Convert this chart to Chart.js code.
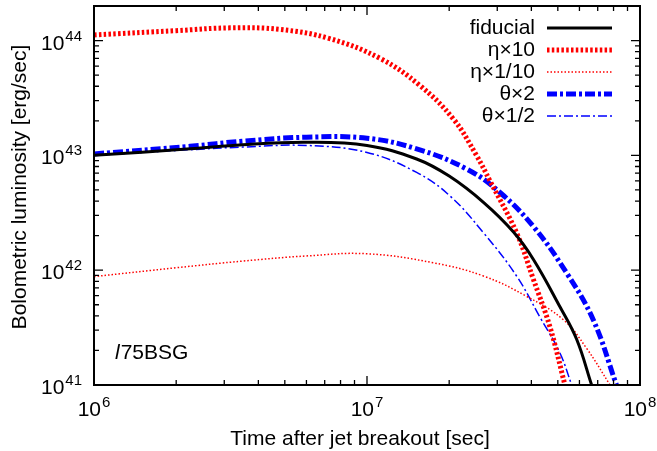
<!DOCTYPE html>
<html>
<head>
<meta charset="utf-8">
<script src="https://cdn.jsdelivr.net/npm/chart.js@4"></script>
<style>
  html, body { margin: 0; padding: 0; background: #fff; }
  #wrap { width: 657px; height: 451px; }
</style>
</head>
<body>
<div id="wrap"><canvas id="chart"></canvas></div>
<script>
  // axis ranges and labelled decades
  const xRange = [1e6, 1e8];
  const yRange = [1e41, 2e44];
  const xMajor = [6, 7, 8];
  const yMajor = [41, 42, 43, 44];

  // fiducial
  const fidT = [1e6, 2.25e6, 3.5e6, 6e6, 1e7, 1.52e7, 2.0e7, 2.67e7, 3.44e7, 4.07e7, 5.09e7, 5.86e7, 6.65e7];
  const fidL = [1.0e43, 1.14e43, 1.24e43, 1.30e43, 1.22e43, 9.3e42, 6.6e42, 3.9e42, 2.15e42, 1.24e42, 4.8e41, 2.5e41, 1.0e41];

  // eta x 10
  const etaHiT = [1e6, 2e6, 3.15e6, 4.8e6, 7.3e6, 1.12e7, 1.56e7, 2.07e7, 2.52e7, 2.82e7, 3.53e7, 4.07e7, 4.68e7, 5.31e7];
  const etaHiL = [1.12e44, 1.22e44, 1.29e44, 1.25e44, 1.04e44, 6.97e43, 4.07e43, 2.08e43, 9.96e42, 6.0e42, 2.12e42, 8.3e41, 3.2e41, 1.0e41];

  // eta x 1/10
  const etaLoT = [1e6, 2e6, 3.5e6, 6e6, 1e7, 1.75e7, 2.67e7, 3.85e7, 5.24e7, 6.37e7, 7.77e7];
  const etaLoL = [8.8e41, 1.05e42, 1.2e42, 1.33e42, 1.39e42, 1.16e42, 8.9e41, 5.9e41, 3.7e41, 2.09e41, 1.0e41];

  // theta x 2
  const thHiT = [1e6, 2.25e6, 3.5e6, 6e6, 1e7, 1.52e7, 2.32e7, 3.07e7, 4.07e7, 5.38e7, 6.74e7, 8.2e7];
  const thHiL = [1.03e43, 1.2e43, 1.33e43, 1.44e43, 1.41e43, 1.14e43, 7.6e42, 4.75e42, 2.4e42, 9.5e41, 3.7e41, 1.0e41];

  // theta x 1/2
  const thLoT = [1e6, 2.25e6, 3.5e6, 6e6, 1e7, 1.52e7, 2.01e7, 2.67e7, 3.53e7, 4.3e7, 5.09e7, 5.62e7];
  const thLoL = [1.0e43, 1.12e43, 1.18e43, 1.22e43, 1.06e43, 7.1e42, 4.45e42, 2.12e42, 8.9e41, 3.9e41, 1.9e41, 1.0e41];

  const FONT = '"Liberation Sans", Arial, Helvetica, sans-serif';

  function pts(ts, ls) {
    return ts.map((t, i) => ({ x: t, y: ls[i] }));
  }

  function series(label, ts, ls, color, width, dash) {
    return {
      label,
      data: pts(ts, ls),
      borderColor: color,
      borderWidth: width,
      borderDash: dash,
      pointRadius: 0,
      fill: false,
      tension: 0.4
    };
  }

  function logTicks(range) {
    const out = [];
    const e0 = Math.floor(Math.log10(range[0]));
    const e1 = Math.ceil(Math.log10(range[1]));
    for (let e = e0; e <= e1; e++) {
      for (let k = 1; k <= 9; k++) {
        const v = k * Math.pow(10, e);
        if (v >= range[0] * 0.999 && v < range[1] * 0.999) out.push([v, k === 1]);
      }
    }
    return out;
  }

  // "10" with a raised exponent; align: 'center' or 'right'
  function drawPow(ctx, exp, x, y, align) {
    ctx.font = '21px ' + FONT;
    const wBase = ctx.measureText('10').width;
    ctx.font = '15px ' + FONT;
    const wExp = ctx.measureText(String(exp)).width;
    const total = wBase + wExp + 1;
    let x0 = align === 'right' ? x - total : x - total / 2;
    ctx.textAlign = 'left';
    ctx.textBaseline = 'alphabetic';
    ctx.font = '21px ' + FONT;
    ctx.fillText('10', x0, y);
    ctx.font = '15px ' + FONT;
    ctx.fillText(String(exp), x0 + wBase + 1, y - 9);
  }

  const decor = {
    id: 'decor',
    afterDraw(chart) {
      const { ctx, chartArea: a, scales: { x, y } } = chart;
      ctx.save();
      ctx.fillStyle = '#000';
      ctx.strokeStyle = '#000';

      // inward ticks on all four sides
      ctx.lineWidth = 1.3;
      ctx.setLineDash([]);
      ctx.beginPath();
      logTicks(xRange).forEach(([v, major]) => {
        const px = x.getPixelForValue(v);
        const len = major ? 9 : 5;
        ctx.moveTo(px, a.bottom); ctx.lineTo(px, a.bottom - len);
        ctx.moveTo(px, a.top); ctx.lineTo(px, a.top + len);
      });
      logTicks(yRange).forEach(([v, major]) => {
        const py = y.getPixelForValue(v);
        const len = major ? 9 : 5;
        ctx.moveTo(a.left, py); ctx.lineTo(a.left + len, py);
        ctx.moveTo(a.right, py); ctx.lineTo(a.right - len, py);
      });
      ctx.stroke();

      ctx.lineWidth = 2;
      ctx.strokeRect(a.left, a.top, a.right - a.left, a.bottom - a.top);

      // tick labels
      xMajor.forEach(e => drawPow(ctx, e, x.getPixelForValue(Math.pow(10, e)), a.bottom + 31, 'center'));
      yMajor.forEach(e => drawPow(ctx, e, a.left - 12, y.getPixelForValue(Math.pow(10, e)) + 9, 'right'));

      // axis titles
      ctx.font = '21px ' + FONT;
      ctx.textAlign = 'center';
      ctx.textBaseline = 'alphabetic';
      ctx.fillText('Time after jet breakout [sec]', 360, 445);
      ctx.save();
      ctx.translate(26, 187);
      ctx.rotate(-Math.PI / 2);
      ctx.fillText('Bolometric luminosity [erg/sec]', 0, 0);
      ctx.restore();

      // model label
      ctx.textAlign = 'left';
      ctx.font = 'italic 21px ' + FONT;
      ctx.fillText('l', 115, 359);
      const wl = ctx.measureText('l').width;
      ctx.font = '21px ' + FONT;
      ctx.fillText('75BSG', 115 + wl + 1, 359);

      // legend: right-aligned text, sample line to the right
      const rowY = [28, 50, 72, 94, 116];
      chart.data.datasets.forEach((ds, i) => {
        const ly = rowY[i];
        ctx.font = '21px ' + FONT;
        ctx.textAlign = 'right';
        ctx.textBaseline = 'middle';
        ctx.fillStyle = '#000';
        ctx.fillText(ds.label, 535, ly);
        ctx.strokeStyle = ds.borderColor;
        ctx.lineWidth = ds.borderWidth;
        ctx.setLineDash(ds.borderDash || []);
        ctx.beginPath();
        ctx.moveTo(547, ly);
        ctx.lineTo(612, ly);
        ctx.stroke();
      });
      ctx.restore();
    }
  };

  new Chart(document.getElementById('chart'), {
    type: 'line',
    data: {
      datasets: [
        series('fiducial', fidT, fidL, '#000000', 3, []),
        series('\u03b7\u00d710', etaHiT, etaHiL, '#ff0000', 5, [2.5, 2.3]),
        series('\u03b7\u00d71/10', etaLoT, etaLoL, '#ff0000', 1.5, [1.5, 2]),
        series('\u03b8\u00d72', thHiT, thHiL, '#0000ff', 5, [10, 3, 3, 3]),
        series('\u03b8\u00d71/2', thLoT, thLoL, '#0000ff', 1.5, [9, 3, 2, 3])
      ]
    },
    options: {
      responsive: true,
      maintainAspectRatio: false,
      animation: false,
      layout: { padding: { left: 94, right: 17, top: 6, bottom: 66 } },
      plugins: { legend: { display: false }, tooltip: { enabled: false } },
      scales: {
        x: { type: 'logarithmic', min: xRange[0], max: xRange[1], display: false },
        y: { type: 'logarithmic', min: yRange[0], max: yRange[1], display: false }
      }
    },
    plugins: [decor]
  });
</script>
</body>
</html>
